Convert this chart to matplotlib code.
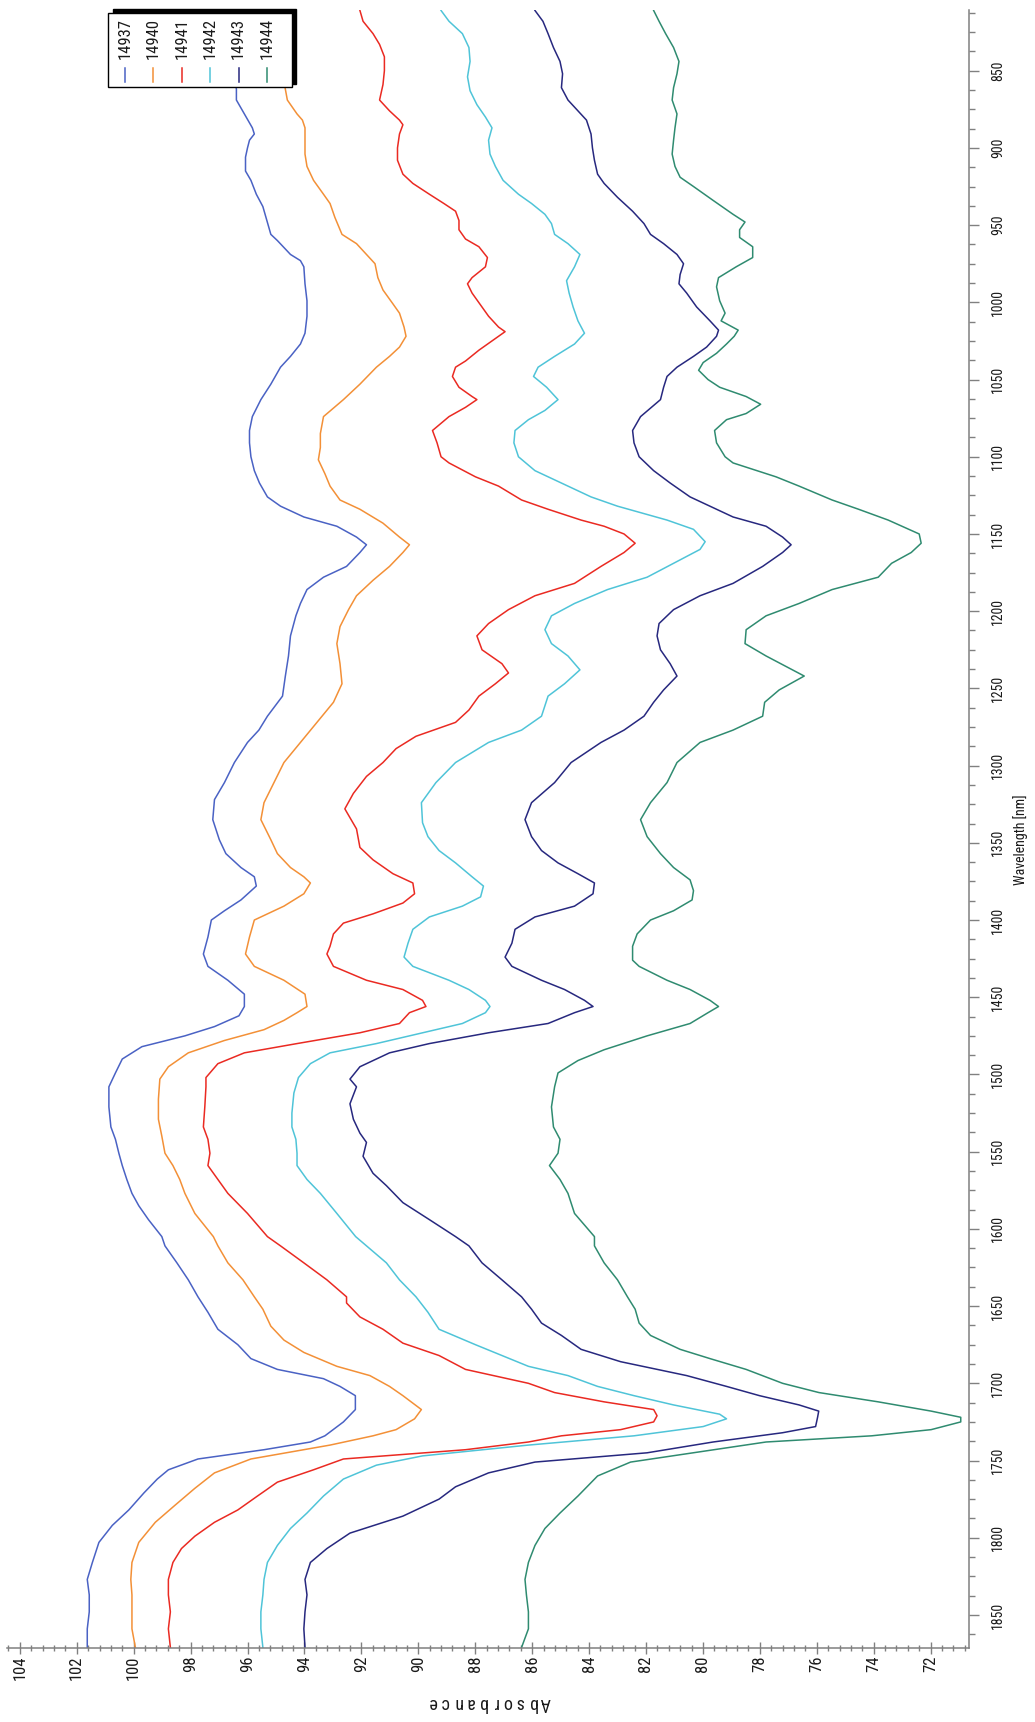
import matplotlib
matplotlib.use("Agg")
import matplotlib.pyplot as plt
from matplotlib import font_manager
from matplotlib.ticker import MultipleLocator
from matplotlib.patches import Rectangle

# narrow face like the original software; fall back to condensed DejaVu
installed = {f.name for f in font_manager.fontManager.ttflist}
family = [f for f in ['Liberation Sans Narrow', 'Roboto Condensed', 'Open Sans Condensed'] if f in installed]
plt.rcParams['font.family'] = family + ['DejaVu Sans']
plt.rcParams['font.stretch'] = 'condensed'

# sample names and colours
names = ['14937', '14940', '14941', '14942', '14943', '14944']
colors = ['#4a62c4', '#f39037', '#ea2a22', '#4fc4d8', '#27287f', '#2f8b70']

# wavelength [nm] / absorbance
wl_14937 = [811, 836, 862, 869, 878, 887, 891, 895, 900, 906, 915, 921, 930, 938, 947, 956, 960, 969, 973, 977,
            988, 999, 1009, 1020, 1027, 1035, 1042, 1053, 1063, 1074, 1083, 1091, 1100, 1109, 1117, 1126, 1132,
            1139, 1145, 1152, 1157, 1162, 1171, 1178, 1186, 1195, 1203, 1216, 1229, 1242, 1255, 1268, 1277, 1285,
            1298, 1311, 1322, 1335, 1348, 1357, 1366, 1372, 1378, 1387, 1394, 1400, 1411, 1422, 1430, 1439, 1448,
            1456, 1462, 1469, 1475, 1482, 1490, 1499, 1508, 1521, 1534, 1542, 1551, 1559, 1568, 1577, 1585, 1594,
            1605, 1611, 1622, 1633, 1644, 1654, 1665, 1675, 1684, 1691, 1697, 1702, 1708, 1717, 1725, 1734, 1738,
            1743, 1749, 1756, 1762, 1771, 1782, 1792, 1803, 1816, 1827, 1837, 1848, 1859, 1871]
ab_14937 = [96.88, 96.6, 96.39, 96.39, 96.11, 95.83, 95.76, 95.93, 96.0, 96.07, 96.07, 95.88, 95.69, 95.46, 95.32,
            95.18, 94.95, 94.49, 94.14, 94.02, 93.98, 93.91, 93.91, 93.98, 94.14, 94.49, 94.84, 95.18, 95.53, 95.83,
            95.93, 95.93, 95.88, 95.76, 95.58, 95.30, 94.84, 94.02, 92.86, 92.17, 91.82, 92.05, 92.52, 93.33, 93.91,
            94.14, 94.30, 94.49, 94.56, 94.67, 94.77, 95.30, 95.60, 96.0, 96.46, 96.81, 97.16, 97.22, 96.99, 96.76,
            96.23, 95.76, 95.69, 96.23, 96.81, 97.27, 97.39, 97.55, 97.39, 96.69, 96.11, 96.11, 96.30, 97.16, 98.20,
            99.71, 100.40, 100.64, 100.87, 100.87, 100.80, 100.64, 100.52, 100.40, 100.24, 100.06, 99.82, 99.48,
            99.01, 98.90, 98.48, 98.08, 97.74, 97.39, 97.04, 96.34, 95.88, 94.95, 93.33, 92.75, 92.21, 92.21, 92.63,
            93.28, 93.79, 95.42, 97.74, 98.78, 99.17, 99.64, 100.17, 100.75, 101.22, 101.45, 101.63, 101.56, 101.56,
            101.63, 101.63]

wl_14940 = [811, 836, 862, 869, 878, 882, 887, 895, 904, 912, 921, 930, 936, 945, 956, 962, 969, 975, 984, 992,
            1001, 1007, 1016, 1022, 1029, 1035, 1042, 1053, 1063, 1074, 1085, 1094, 1102, 1111, 1119, 1128, 1134,
            1143, 1152, 1157, 1162, 1171, 1180, 1190, 1199, 1210, 1221, 1234, 1247, 1259, 1272, 1285, 1298, 1311,
            1324, 1335, 1348, 1357, 1366, 1372, 1376, 1383, 1391, 1400, 1411, 1422, 1430, 1439, 1448, 1456, 1460,
            1465, 1471, 1478, 1486, 1495, 1503, 1516, 1529, 1540, 1551, 1559, 1568, 1577, 1590, 1605, 1611, 1622,
            1633, 1644, 1652, 1663, 1672, 1680, 1689, 1695, 1702, 1708, 1717, 1723, 1730, 1734, 1740, 1749, 1758,
            1768, 1779, 1790, 1803, 1816, 1827, 1837, 1848, 1859, 1871]
ab_14940 = [95.18, 94.9, 94.67, 94.60, 94.26, 94.07, 93.98, 93.98, 93.98, 93.91, 93.68, 93.33, 93.10, 92.93, 92.68,
            92.17, 91.82, 91.52, 91.42, 91.24, 90.89, 90.66, 90.50, 90.43, 90.66, 91.01, 91.47, 92.05, 92.63, 93.33,
            93.44, 93.44, 93.51, 93.28, 93.10, 92.75, 92.05, 91.24, 90.66, 90.31, 90.54, 91.01, 91.59, 92.17, 92.45,
            92.75, 92.86, 92.75, 92.68, 92.98, 93.56, 94.14, 94.72, 95.07, 95.42, 95.53, 95.18, 94.95, 94.49, 94.02,
            93.79, 94.02, 94.72, 95.76, 95.93, 96.07, 95.76, 94.72, 93.98, 93.91, 94.26, 94.72, 95.42, 96.81, 98.08,
            98.78, 99.08, 99.13, 99.13, 99.01, 98.90, 98.62, 98.38, 98.20, 97.85, 97.2, 97.04, 96.69, 96.16, 95.76,
            95.46, 95.18, 94.72, 94.02, 92.86, 91.70, 91.01, 90.54, 89.89, 90.13, 90.78, 91.59, 93.10, 95.88, 97.16,
            97.85, 98.55, 99.24, 99.82, 100.06, 100.10, 100.06, 100.06, 100.06, 99.94]

wl_14941 = [811, 818, 826, 833, 841, 850, 859, 869, 876, 882, 885, 891, 900, 908, 917, 923, 930, 936, 941, 947,
            953, 959, 964, 971, 977, 984, 988, 994, 1003, 1009, 1016, 1019, 1025, 1031, 1038, 1042, 1048, 1055,
            1061, 1063, 1068, 1074, 1083, 1091, 1100, 1104, 1113, 1119, 1128, 1134, 1141, 1145, 1150, 1156, 1162,
            1171, 1182, 1190, 1199, 1208, 1216, 1225, 1234, 1240, 1247, 1255, 1264, 1272, 1281, 1289, 1298, 1307,
            1318, 1328, 1341, 1353, 1361, 1370, 1376, 1383, 1389, 1396, 1402, 1409, 1417, 1422, 1430, 1439, 1445,
            1452, 1456, 1460, 1467, 1473, 1480, 1486, 1493, 1502, 1508, 1521, 1534, 1542, 1551, 1559, 1568, 1577,
            1590, 1605, 1611, 1622, 1633, 1644, 1648, 1657, 1665, 1674, 1682, 1691, 1700, 1706, 1712, 1717, 1721,
            1725, 1730, 1734, 1738, 1743, 1749, 1756, 1764, 1773, 1782, 1790, 1799, 1807, 1816, 1827, 1837, 1848,
            1859, 1871]
ab_14941 = [92.05, 91.94, 91.59, 91.36, 91.19, 91.19, 91.24, 91.36, 91.01, 90.66, 90.54, 90.66, 90.73, 90.73, 90.54,
            90.19, 89.61, 89.10, 88.69, 88.57, 88.57, 88.34, 87.87, 87.57, 87.64, 88.11, 88.27, 88.11, 87.76, 87.53,
            87.18, 86.95, 87.41, 87.87, 88.34, 88.69, 88.80, 88.57, 88.11, 87.94, 88.34, 88.92, 89.50, 89.34, 89.20,
            88.92, 87.99, 87.18, 86.37, 85.44, 84.28, 83.47, 82.77, 82.38, 82.77, 83.58, 84.51, 85.90, 86.83, 87.53,
            87.94, 87.76, 87.06, 86.83, 87.29, 87.87, 88.22, 88.69, 90.08, 90.78, 91.24, 91.82, 92.28, 92.58, 92.17,
            92.05, 91.59, 90.89, 90.19, 90.13, 90.54, 91.59, 92.63, 92.98, 93.10, 93.21, 92.98, 91.82, 90.54, 89.85,
            89.73, 90.31, 90.66, 92.05, 94.26, 96.11, 97.04, 97.46, 97.46, 97.50, 97.55, 97.39, 97.32, 97.39, 97.04,
            96.69, 96.0, 95.3, 94.84, 94.02, 93.21, 92.52, 92.52, 92.05, 91.24, 90.54, 89.27, 88.34, 86.13, 85.21,
            83.47, 81.73, 81.61, 81.73, 82.89, 84.97, 86.13, 88.34, 92.63, 93.68, 94.95, 95.65, 96.34, 97.16, 97.85,
            98.32, 98.62, 98.78, 98.78, 98.71, 98.78, 98.71]

wl_14942 = [811, 818, 826, 835, 844, 854, 863, 872, 880, 887, 895, 904, 912, 921, 930, 936, 943, 949, 956, 962,
            969, 977, 986, 994, 1003, 1012, 1020, 1027, 1035, 1042, 1048, 1055, 1063, 1070, 1076, 1083, 1091, 1100,
            1109, 1117, 1126, 1132, 1141, 1147, 1155, 1160, 1169, 1178, 1186, 1195, 1203, 1212, 1221, 1229, 1238,
            1247, 1255, 1268, 1277, 1285, 1298, 1311, 1324, 1337, 1346, 1355, 1363, 1372, 1378, 1385, 1391, 1398,
            1406, 1415, 1424, 1430, 1439, 1445, 1452, 1456, 1460, 1467, 1473, 1480, 1486, 1493, 1502, 1512, 1525,
            1534, 1542, 1551, 1559, 1568, 1577, 1590, 1605, 1611, 1622, 1633, 1644, 1654, 1665, 1675, 1682, 1689,
            1695, 1702, 1708, 1714, 1720, 1723, 1728, 1734, 1740, 1747, 1753, 1762, 1773, 1784, 1794, 1805, 1816,
            1827, 1837, 1848, 1859, 1871]
ab_14942 = [89.20, 88.92, 88.45, 88.22, 88.18, 88.27, 88.18, 87.94, 87.64, 87.41, 87.53, 87.48, 87.29, 87.02, 86.48,
            86.02, 85.55, 85.32, 85.21, 84.74, 84.32, 84.51, 84.79, 84.70, 84.56, 84.39, 84.16, 84.51, 85.21, 85.79,
            85.95, 85.49, 85.09, 85.55, 86.13, 86.60, 86.64, 86.48, 85.90, 84.97, 83.93, 83.00, 81.26, 80.33, 79.92,
            80.10, 81.03, 81.96, 83.35, 84.51, 85.32, 85.55, 85.32, 84.74, 84.32, 84.86, 85.44, 85.67, 86.37, 87.53,
            88.69, 89.38, 89.89, 89.85, 89.66, 89.27, 88.69, 88.11, 87.71, 87.81, 88.45, 89.61, 90.19, 90.36, 90.50,
            90.19, 88.92, 88.22, 87.64, 87.48, 87.64, 88.45, 89.85, 91.47, 93.10, 93.79, 94.21, 94.37, 94.44, 94.44,
            94.30, 94.26, 94.26, 93.91, 93.44, 92.86, 92.2, 91.82, 91.12, 90.66, 90.08, 89.66, 89.27, 87.99, 87.06,
            86.13, 84.74, 83.70, 82.42, 81.03, 79.41, 79.17, 79.99, 82.42, 86.13, 89.85, 91.47, 92.63, 93.33, 93.91,
            94.49, 94.95, 95.30, 95.42, 95.46, 95.53, 95.53, 95.46]

wl_14943 = [811, 818, 826, 835, 844, 852, 861, 869, 876, 882, 891, 900, 908, 917, 923, 932, 941, 949, 956, 962,
            969, 975, 982, 988, 994, 1003, 1012, 1018, 1022, 1029, 1035, 1042, 1048, 1055, 1063, 1074, 1083, 1091,
            1100, 1109, 1117, 1126, 1132, 1139, 1145, 1152, 1157, 1162, 1171, 1182, 1190, 1199, 1208, 1216, 1225,
            1234, 1242, 1251, 1259, 1268, 1277, 1285, 1298, 1311, 1324, 1335, 1346, 1355, 1363, 1370, 1376, 1383,
            1391, 1398, 1406, 1415, 1424, 1430, 1439, 1445, 1452, 1456, 1460, 1467, 1473, 1480, 1486, 1495, 1503,
            1508, 1519, 1529, 1538, 1544, 1553, 1564, 1572, 1583, 1594, 1605, 1611, 1622, 1633, 1644, 1652, 1661,
            1669, 1678, 1686, 1695, 1702, 1708, 1714, 1718, 1722, 1728, 1732, 1738, 1745, 1751, 1758, 1767, 1775,
            1786, 1797, 1807, 1816, 1827, 1837, 1848, 1859, 1871]
ab_14943 = [85.90, 85.62, 85.44, 85.25, 85.02, 84.93, 84.97, 84.74, 84.39, 84.09, 83.93, 83.88, 83.81, 83.70, 83.47,
            83.00, 82.47, 82.07, 81.84, 81.38, 80.91, 80.68, 80.80, 80.84, 80.57, 80.22, 79.75, 79.45, 79.52, 79.87,
            80.33, 80.91, 81.26, 81.38, 81.49, 82.19, 82.47, 82.42, 82.24, 81.73, 81.15, 80.45, 79.75, 78.94, 77.78,
            77.20, 76.90, 77.20, 77.90, 78.94, 80.10, 81.03, 81.54, 81.61, 81.49, 81.15, 80.91, 81.38, 81.73, 82.07,
            82.77, 83.58, 84.63, 85.21, 86.02, 86.25, 86.02, 85.67, 85.09, 84.39, 83.81, 83.86, 84.51, 85.90, 86.60,
            86.71, 86.95, 86.71, 85.67, 84.86, 84.16, 83.86, 84.51, 85.44, 87.53, 89.61, 91.01, 92.05, 92.40, 92.17,
            92.40, 92.28, 92.05, 91.82, 91.94, 91.59, 91.12, 90.54, 89.61, 88.69, 88.22, 87.76, 87.06, 86.37, 86.02,
            85.67, 84.97, 84.28, 82.89, 80.57, 79.17, 78.01, 76.62, 75.93, 75.97, 76.04, 77.20, 79.64, 81.96, 85.90,
            87.53, 88.69, 89.27, 90.54, 92.40, 93.21, 93.79, 93.98, 93.91, 93.98, 94.02, 93.98]

wl_14944 = [811, 818, 826, 835, 844, 852, 861, 869, 878, 887, 895, 904, 912, 919, 925, 934, 943, 948, 953, 958,
            964, 971, 977, 984, 990, 999, 1007, 1012, 1018, 1022, 1027, 1033, 1039, 1044, 1050, 1055, 1061, 1066,
            1072, 1076, 1083, 1091, 1100, 1104, 1113, 1119, 1128, 1134, 1141, 1150, 1156, 1162, 1169, 1178, 1186,
            1195, 1203, 1212, 1221, 1229, 1238, 1242, 1251, 1259, 1268, 1277, 1285, 1298, 1311, 1324, 1335, 1346,
            1357, 1366, 1374, 1381, 1387, 1394, 1400, 1409, 1417, 1426, 1430, 1439, 1445, 1452, 1456, 1460, 1467,
            1475, 1484, 1491, 1499, 1508, 1521, 1534, 1542, 1551, 1559, 1568, 1577, 1590, 1605, 1611, 1622, 1633,
            1644, 1652, 1661, 1669, 1678, 1684, 1691, 1700, 1706, 1712, 1718, 1722, 1725, 1730, 1734, 1738, 1745,
            1751, 1760, 1773, 1784, 1794, 1805, 1816, 1827, 1837, 1848, 1859, 1871]
ab_14944 = [81.73, 81.54, 81.31, 81.03, 80.84, 80.91, 81.03, 81.08, 80.91, 80.98, 81.03, 81.08, 80.98, 80.80, 80.33,
            79.64, 78.94, 78.52, 78.71, 78.71, 78.25, 78.25, 78.83, 79.45, 79.52, 79.41, 79.22, 79.36, 78.76, 78.90,
            79.17, 79.52, 79.99, 80.15, 79.82, 79.41, 78.48, 77.97, 78.48, 79.17, 79.59, 79.52, 79.22, 78.94, 77.43,
            76.62, 75.46, 74.53, 73.49, 72.40, 72.33, 72.68, 73.37, 73.84, 75.46, 76.62, 77.78, 78.48, 78.52, 77.78,
            76.85, 76.44, 77.32, 77.83, 77.90, 78.94, 80.10, 80.91, 81.26, 81.84, 82.19, 81.96, 81.49, 81.03, 80.45,
            80.33, 80.38, 81.03, 81.84, 82.31, 82.47, 82.47, 82.24, 81.26, 80.45, 79.75, 79.45, 79.82, 80.45, 81.96,
            83.47, 84.39, 85.09, 85.21, 85.32, 85.25, 85.02, 85.09, 85.39, 85.02, 84.74, 84.51, 83.81, 83.81, 83.47,
            83.00, 82.65, 82.38, 82.24, 81.84, 80.80, 79.75, 78.48, 77.20, 75.92, 73.84, 71.98, 70.94, 70.94, 71.98,
            74.07, 77.78, 80.33, 82.54, 83.70, 84.39, 85.02, 85.55, 85.90, 86.13, 86.25, 86.20, 86.13, 86.13, 86.37]

wavelengths = [wl_14937, wl_14940, wl_14941, wl_14942, wl_14943, wl_14944]
absorbances = [ab_14937, ab_14940, ab_14941, ab_14942, ab_14943, ab_14944]

W, H = 1035, 1722
fig = plt.figure(figsize=(W / 100, H / 100), dpi=100)
fig.patch.set_facecolor('white')

# the chart is turned on its side: absorbance runs along the bottom, wavelength down the right
ax = fig.add_axes([7 / W, 1 - 1648 / H, 962 / W, 1638 / H])
for wl, ab, c in zip(wavelengths, absorbances, colors):
    ax.plot(ab, wl, color=c, lw=1.1)

ax.set_xlim(104.45, 70.65)
ax.set_ylim(1871.4, 810.7)
ax.xaxis.set_major_locator(MultipleLocator(2))
ax.xaxis.set_minor_locator(MultipleLocator(0.4))
ax.yaxis.set_major_locator(MultipleLocator(50))
ax.yaxis.set_minor_locator(MultipleLocator(12.5))
ax.yaxis.tick_right()

for side in ['left', 'top']:
    ax.spines[side].set_visible(False)
for side in ['right', 'bottom']:
    ax.spines[side].set_color('#808080')
    ax.spines[side].set_linewidth(1.1)

ax.tick_params(axis='x', which='major', direction='inout', length=9, width=1, color='#808080',
               labelsize=12, labelcolor='#1a1a1a', labelrotation=90, pad=1)
ax.tick_params(axis='x', which='minor', direction='inout', length=5, width=1, color='#808080')
ax.tick_params(axis='y', which='major', direction='out', length=7, width=1, color='#808080',
               labelsize=10, labelcolor='#1a1a1a', labelrotation=90, pad=9)
ax.tick_params(axis='y', which='minor', direction='out', length=4, width=1, color='#808080')
plt.setp(ax.get_yticklabels(), va='center')

# axis titles
fig.text(1021 / W, 1 - 840 / H, 'Wavelength [nm]', rotation=90, ha='center', va='center',
         fontsize=10, color='#1a1a1a')
label = 'Absorbance'
for i, ch in enumerate(label):
    fig.text((545 - i * 12.5) / W, 1 - 1698 / H, ch, rotation=180, rotation_mode='anchor',
             ha='center', va='baseline', fontsize=13, color='#1a1a1a')

# rotated legend drawn on a pixel overlay
ov = fig.add_axes([0, 0, 1, 1], zorder=5)
ov.set_xlim(0, W)
ov.set_ylim(H, 0)
ov.axis('off')
ov.patch.set_alpha(0)
ov.add_patch(Rectangle((113, 9), 183, 75, facecolor='black', edgecolor='black'))
ov.add_patch(Rectangle((108, 13), 184, 74, facecolor='white', edgecolor='black', lw=1))
for i, (name, c) in enumerate(zip(names, colors)):
    x = 125 + i * 28.4
    ov.plot([x, x], [68, 82], color=c, lw=1.1)
    ov.text(x, 59, name, rotation=90, ha='center', va='bottom', fontsize=12, color='#1a1a1a')

fig.savefig('out.png', dpi=100, facecolor='white')
